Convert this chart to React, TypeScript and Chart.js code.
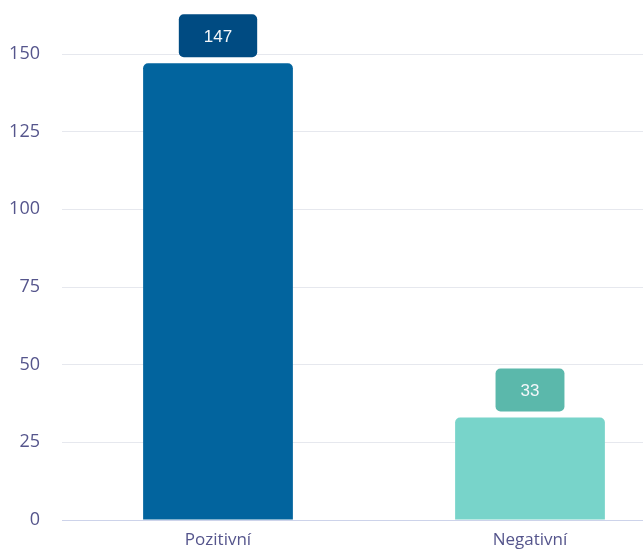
import React, { useEffect, useRef } from "react";
import { Chart, registerables } from "chart.js";

Chart.register(...registerables);

const categories = ["Pozitivní", "Negativní"];
const values = [147, 33];
const barColors = ["#02649e", "#78d4ca"];
const boxColors = ["#004b82", "#5bb8ab"];
const yTicks = [0, 25, 50, 75, 100, 125, 150];

const W = 700;
const H = 572;

const valueBoxPlugin = {
  id: "valueBox",
  afterDatasetsDraw(chart: any) {
    const ctx = chart.ctx;
    const meta = chart.getDatasetMeta(0);
    ctx.save();
    ctx.font = "17px 'Liberation Sans', Arial, sans-serif";
    ctx.textAlign = "center";
    ctx.textBaseline = "middle";
    meta.data.forEach((bar: any, i: number) => {
      const text = String(values[i]);
      const tw = ctx.measureText(text).width;
      const bw = tw + 50;
      const bh = 43;
      const cx = bar.x;
      const bottom = bar.y - 6;
      const top = bottom - bh;
      ctx.fillStyle = boxColors[i];
      ctx.beginPath();
      (ctx as any).roundRect(cx - bw / 2, top, bw, bh, 5);
      ctx.fill();
      ctx.fillStyle = "#f4f7fa";
      ctx.fillText(text, cx, top + bh / 2 + 1);
    });
    ctx.restore();
  },
};

export default function App() {
  const ref = useRef<HTMLCanvasElement>(null);
  useEffect(() => {
    if (!ref.current) return;
    const chart = new Chart(ref.current, {
      type: "bar",
      data: {
        labels: categories,
        datasets: [
          {
            data: values,
            backgroundColor: barColors,
            borderRadius: { topLeft: 5, topRight: 5, bottomLeft: 0, bottomRight: 0 },
            borderSkipped: false,
            categoryPercentage: 0.6,
            barPercentage: 0.8,
          },
        ],
      },
      options: {
        animation: false,
        responsive: false,
        devicePixelRatio: 1,
        layout: { padding: { top: 54, right: W - 686, left: 0, bottom: 0 } },
        plugins: { legend: { display: false }, tooltip: { enabled: false } },
        scales: {
          x: {
            grid: { display: false, drawTicks: false },
            border: { display: true, color: "#cdd3ea", width: 1 },
            ticks: {
              padding: 10,
              color: "#55558c",
              font: { family: "'Open Sans', Lato, sans-serif", size: 17 },
            },
            afterFit(axis: any) {
              axis.height = H - 520;
            },
          },
          y: {
            min: 0,
            max: 150,
            afterBuildTicks(axis: any) {
              axis.ticks = yTicks.map((v) => ({ value: v }));
            },
            grid: {
              color: (c: any) => (c.tick && c.tick.value === 0 ? "#cdd3ea" : "#e6e8ee"),
              drawTicks: false,
              lineWidth: 1,
            },
            border: { display: false },
            ticks: {
              padding: 22,
              color: "#55558c",
              font: { family: "'Open Sans', Lato, sans-serif", size: 18 },
            },
            afterFit(axis: any) {
              axis.width = 62;
            },
          },
        },
      },
      plugins: [valueBoxPlugin],
    });
    return () => chart.destroy();
  }, []);
  return (
    <div style={{ position: "fixed", left: 0, top: 0, width: W, height: H, background: "#fff" }}>
      <canvas ref={ref} width={W} height={H} style={{ width: W, height: H, display: "block" }} />
    </div>
  );
}
